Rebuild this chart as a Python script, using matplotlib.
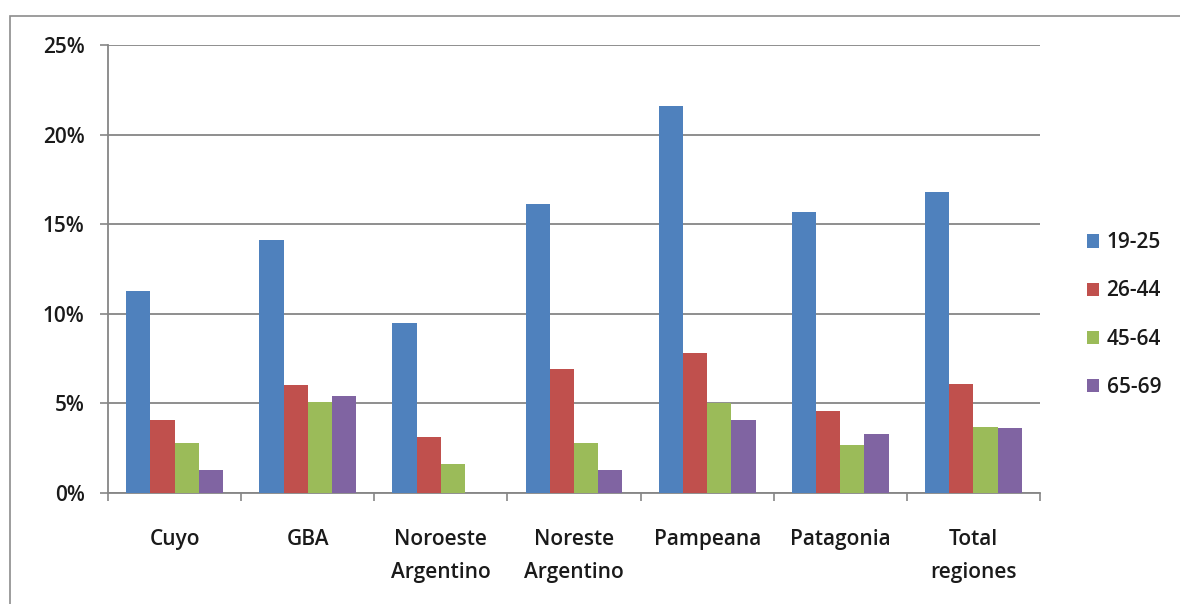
import matplotlib
matplotlib.use("Agg")
import matplotlib.pyplot as plt
import numpy as np
from matplotlib.patches import Rectangle
from matplotlib.ticker import FuncFormatter, MultipleLocator

categories = ["Cuyo", "GBA", "Noroeste\nArgentino", "Noreste\nArgentino",
              "Pampeana", "Patagonia", "Total\nregiones"]
series_names = ["19-25", "26-44", "45-64", "65-69"]
s_19_25 = [11.3, 14.1, 9.5, 16.1, 21.6, 15.7, 16.8]
s_26_44 = [4.1, 6.0, 3.1, 6.9, 7.8, 4.6, 6.1]
s_45_64 = [2.8, 5.1, 1.6, 2.8, 5.0, 2.7, 3.7]
s_65_69 = [1.3, 5.4, 0.0, 1.3, 4.1, 3.3, 3.6]
series = [s_19_25, s_26_44, s_45_64, s_65_69]
colors = ["#4F81BD", "#C0504D", "#9BBB59", "#8064A2"]

plt.rcParams['font.family'] = ['Open Sans', 'DejaVu Sans']
FS = 15
FW = "semibold"

W, H = 1180, 604
fig = plt.figure(figsize=(W / 100, H / 100), dpi=100)
fig.patch.set_facecolor("white")

# outer chart border
fig.patches.append(Rectangle((10 / W, -0.02), 1.05, 1 - 16 / H + 0.02,
                             transform=fig.transFigure, fill=False,
                             edgecolor="#8c8c8c", linewidth=1.2))

ax = fig.add_axes([108 / W, 1 - 493 / H, (1040 - 108) / W, (493 - 45) / H])

n = len(series)
gap = 1.5
bw = 1.0 / (n + gap)
x = np.arange(len(categories))
for i, (vals, col, name) in enumerate(zip(series, colors, series_names)):
    offs = (i - (n - 1) / 2) * bw
    ax.bar(x + offs, vals, width=bw, color=col, label=name, zorder=3)

ax.set_xlim(-0.5, len(categories) - 0.5)
ax.set_ylim(0, 25)
ax.yaxis.set_major_locator(MultipleLocator(5))
ax.yaxis.set_major_formatter(FuncFormatter(lambda v, p: f"{int(v)}%"))
ax.grid(axis="y", color="#868686", linewidth=1.3, zorder=0)
ax.set_axisbelow(True)

for s in ["top", "right"]:
    ax.spines[s].set_visible(False)
for s in ["left", "bottom"]:
    ax.spines[s].set_color("#868686")
    ax.spines[s].set_linewidth(1.3)

ax.set_xticks(np.arange(len(categories) + 1) - 0.5)
ax.set_xticklabels([])
ax.set_xticks(x, minor=True)
ax.set_xticklabels(categories, minor=True, fontsize=FS, fontweight=FW,
                   linespacing=1.72, va="top")
ax.tick_params(axis="x", which="major", length=5.5, color="#868686", width=1.2)
ax.tick_params(axis="x", which="minor", length=0, pad=26)
ax.tick_params(axis="y", length=5.8, color="#868686", width=1.2, labelsize=FS,
               pad=11)
for lbl in ax.get_xticklabels(minor=True) + ax.get_yticklabels():
    lbl.set_color("#1a1a1a")
    lbl.set_fontweight(FW)

leg = ax.legend(loc="center left", bbox_to_anchor=(1068 / W, 1 - 315 / H),
                bbox_transform=fig.transFigure, frameon=False,
                prop={"size": FS, "weight": FW}, handlelength=0.6,
                handleheight=0.6, handletextpad=0.35, labelspacing=1.3)
for t in leg.get_texts():
    t.set_color("#1a1a1a")

fig.savefig("out.png", dpi=100)
